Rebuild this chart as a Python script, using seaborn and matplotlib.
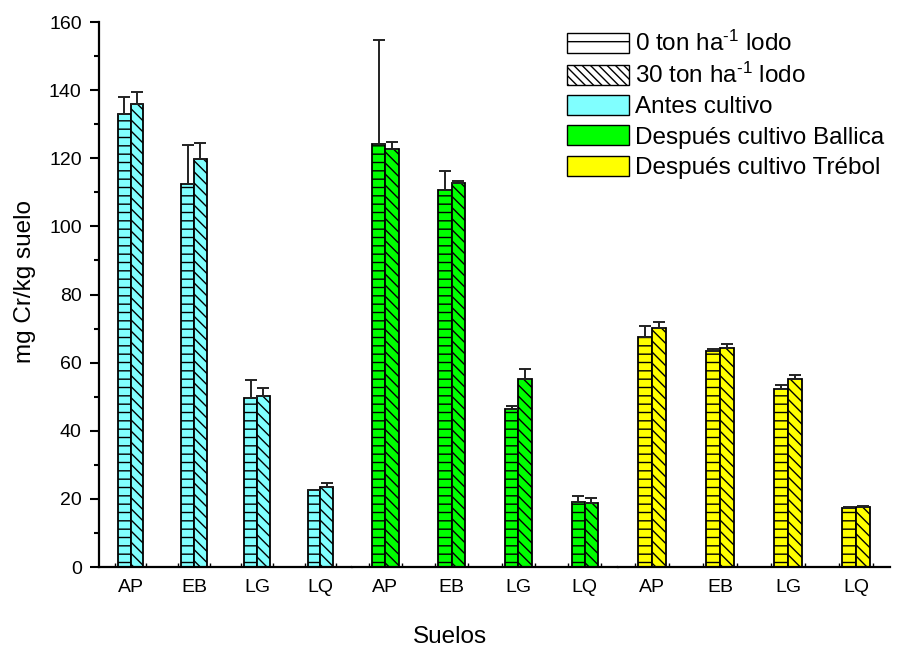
import numpy as np
import pandas as pd
import matplotlib
matplotlib.use('Agg')
import matplotlib.pyplot as plt
from matplotlib.patches import Patch
import seaborn as sns

# Data
suelos = ['AP', 'EB', 'LG', 'LQ']
dosis = ['0 ton', '30 ton']

antes_0 = [133.0, 112.5, 49.6, 22.6]
antes_0_err = [5.0, 11.3, 5.4, 0.0]
antes_30 = [136.0, 119.8, 50.3, 23.4]
antes_30_err = [3.5, 4.8, 2.3, 1.3]

ballica_0 = [124.2, 110.6, 46.4, 19.1]
ballica_0_err = [30.4, 5.6, 1.0, 1.6]
ballica_30 = [122.8, 112.6, 55.2, 18.8]
ballica_30_err = [2.0, 0.7, 2.9, 1.6]

trebol_0 = [67.6, 63.3, 52.2, 17.3]
trebol_0_err = [3.3, 0.7, 1.1, 0.3]
trebol_30 = [70.3, 64.3, 55.2, 17.6]
trebol_30_err = [1.6, 1.2, 1.2, 0.3]

grupos = ['Antes cultivo', 'Después cultivo Ballica', 'Después cultivo Trébol']
colores = ['#80FFFF', '#00FF00', '#FFFF00']
valores = [(antes_0, antes_30), (ballica_0, ballica_30), (trebol_0, trebol_30)]
errores = [(antes_0_err, antes_30_err), (ballica_0_err, ballica_30_err),
           (trebol_0_err, trebol_30_err)]
hatches = ['--', '\\\\\\']

sns.set_style('ticks')
plt.rcParams['font.family'] = ['Liberation Sans', 'DejaVu Sans']
plt.rcParams['mathtext.fontset'] = 'custom'
plt.rcParams['mathtext.rm'] = 'Liberation Sans'
plt.rcParams['mathtext.default'] = 'regular'
plt.rcParams['hatch.linewidth'] = 1.0
for key in ['text.color', 'axes.labelcolor', 'xtick.color', 'ytick.color', 'axes.edgecolor']:
    plt.rcParams[key] = 'black'

fig, axes = plt.subplots(1, 3, figsize=(9, 6.48), dpi=100, sharey=True,
                         gridspec_kw={'width_ratios': [253, 266, 272], 'wspace': 0})
fig.subplots_adjust(left=0.11, right=0.989, bottom=0.125, top=0.966)

for i, ax in enumerate(axes):
    v0, v30 = valores[i]
    df = pd.DataFrame({
        'suelo': suelos * 2,
        'dosis': [dosis[0]] * 4 + [dosis[1]] * 4,
        'valor': list(v0) + list(v30),
    })
    sns.barplot(data=df, x='suelo', y='valor', hue='dosis', order=suelos,
                hue_order=dosis, palette=[colores[i], colores[i]], width=0.4,
                edgecolor='black', linewidth=1.3, errorbar=None, legend=False,
                saturation=1, ax=ax)
    bar_conts = list(ax.containers)
    for j, cont in enumerate(bar_conts):
        for bar in cont:
            bar.set_hatch(hatches[j])
        xs = [b.get_x() + b.get_width() / 2 for b in cont]
        hs = [b.get_height() for b in cont]
        err = errores[i][j]
        ax.errorbar(xs, hs, yerr=[np.zeros(len(err)), err], fmt='none',
                    ecolor='#222222', elinewidth=1.4, capsize=4, capthick=1.4,
                    zorder=1)
    ax.set_xlim(-0.5, 3.5)
    ax.set_ylim(0, 160)
    ax.set_xlabel('')
    ax.set_ylabel('')
    ax.set_xticks(range(4))
    ax.set_xticks([k + d for k in range(4) for d in (-0.25, 0.25)], minor=True)
    ax.tick_params(axis='x', which='major', length=0, pad=9, labelsize=14)
    ax.tick_params(axis='x', which='minor', length=3, width=1, direction='in')
    sns.despine(ax=ax, left=(i > 0))
    ax.spines['bottom'].set_linewidth(1.6)
    if i > 0:
        ax.tick_params(axis='y', which='both', left=False)

ax0 = axes[0]
ax0.set_yticks(np.arange(0, 161, 20))
ax0.set_yticks(np.arange(10, 160, 20), minor=True)
ax0.tick_params(axis='y', which='major', length=6.5, width=1.5, labelsize=14, pad=6)
ax0.tick_params(axis='y', which='minor', length=3.5, width=1.5)
ax0.spines['left'].set_linewidth(1.6)

fig.text(25 / 900, 1 - 282 / 648, 'mg Cr/kg suelo', rotation=90, fontsize=17.5,
         ha='center', va='center')
fig.text(450 / 900, 1 - 637 / 648, 'Suelos', fontsize=17.5, ha='center', va='center')

handles = [
    Patch(facecolor='white', edgecolor='black', hatch='-', linewidth=1),
    Patch(facecolor='white', edgecolor='black', hatch='\\\\\\\\', linewidth=1),
] + [Patch(facecolor=c, edgecolor='black', linewidth=1) for c in colores]
labels = [r'0 ton ha$^{\text{-1}}$ lodo', r'30 ton ha$^{\text{-1}}$ lodo'] + grupos
fig.legend(handles, labels, loc='upper left', bbox_to_anchor=(567 / 900, 1 - 31 / 648),
           frameon=False, fontsize=17.5, handlelength=2.55, handleheight=0.9,
           handletextpad=0.25, labelspacing=0.28, borderpad=0, borderaxespad=0)

plt.savefig('out.png', dpi=100)
